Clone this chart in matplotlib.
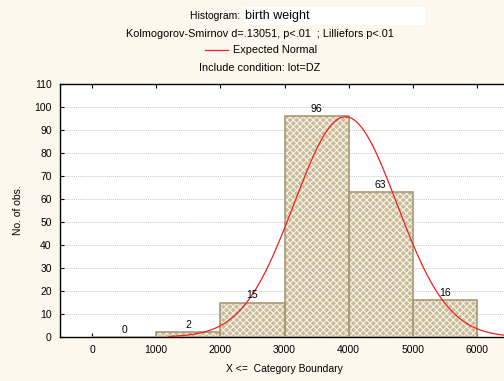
import numpy as np
import matplotlib.pyplot as plt
from matplotlib.lines import Line2D
from matplotlib.patches import Rectangle

# histogram data (upper boundary of each class)
bin_edges = [0, 1000, 2000, 3000, 4000, 5000, 6000]
counts = [0, 2, 15, 96, 63, 16]
fit_mean = 3950
fit_sd = 800

plt.rcParams['font.family'] = ['Liberation Sans', 'DejaVu Sans']

W, H = 504, 381
fig = plt.figure(figsize=(W / 100, H / 100), dpi=100)
fig.patch.set_facecolor('#fcf8ee')
ax = fig.add_axes([60 / W, 1 - 337 / H, 1 - 60 / W + 0.01, (337 - 84) / H])
ax.set_facecolor('white')

lefts = np.array(bin_edges[:-1])
widths = np.diff(bin_edges)
plt.rcParams['hatch.linewidth'] = 0.8
ax.bar(lefts, counts, width=widths, align='edge', color='#c9bb98',
       edgecolor='#f8f4ea', hatch='xxxxx', linewidth=0, zorder=2)
ax.bar(lefts, counts, width=widths, align='edge', fill=False,
       edgecolor='#a89a78', linewidth=1.2, zorder=3)
for l, w, c in zip(lefts, widths, counts):
    ax.text(l + w / 2, c + 1, str(c), ha='center', va='bottom', fontsize=7.5, zorder=5)

n = sum(counts)
xs = np.linspace(1200, 6600, 400)
ys = n * 1000 / (fit_sd * np.sqrt(2 * np.pi)) * np.exp(-0.5 * ((xs - fit_mean) / fit_sd) ** 2)
ax.plot(xs, ys, color='#ee2020', linewidth=0.9, zorder=4)

ax.set_xlim(-500, 6500)
ax.set_ylim(0, 110)
ax.set_xticks(range(0, 6001, 1000))
ax.set_yticks(range(0, 111, 10))
ax.tick_params(axis='both', direction='in', length=3, labelsize=7.5, pad=6)
ax.tick_params(axis='x', top=True)
ax.tick_params(axis='y', right=False)
for y in range(10, 101, 10):
    ax.axhline(y, color='#c8c8c8', linestyle=(0, (1, 1)), linewidth=0.7, zorder=1)
for s in ['left', 'top', 'bottom']:
    ax.spines[s].set_linewidth(1.0)
ax.spines['right'].set_visible(False)

ax.set_xlabel('X <=  Category Boundary', fontsize=7.5, labelpad=6)
ax.set_ylabel('No. of obs.', fontsize=7.5, labelpad=8)

# header lines
fig.patches.append(Rectangle((243 / W, 1 - 25 / H), 182 / W, 18 / H,
                             transform=fig.transFigure, facecolor='white',
                             edgecolor='none'))
fig.text(243 / W, 1 - 16 / H, 'Histogram: ', ha='right', va='center', fontsize=7.5)
fig.text(245 / W, 1 - 16 / H, 'birth weight', ha='left', va='center', fontsize=9)
fig.text(260 / W, 1 - 34 / H, 'Kolmogorov-Smirnov d=.13051, p<.01  ; Lilliefors p<.01',
         ha='center', va='center', fontsize=7.8)
fig.lines.append(Line2D([205 / W, 228 / W], [1 - 50 / H, 1 - 50 / H],
                        transform=fig.transFigure, color='#ee2020', linewidth=0.9))
fig.text(233 / W, 1 - 50 / H, 'Expected Normal', ha='left', va='center', fontsize=7.8)
fig.text(260 / W, 1 - 68 / H, 'Include condition: lot=DZ', ha='center', va='center', fontsize=7.8)

fig.savefig('out.png', dpi=100, facecolor=fig.get_facecolor())
